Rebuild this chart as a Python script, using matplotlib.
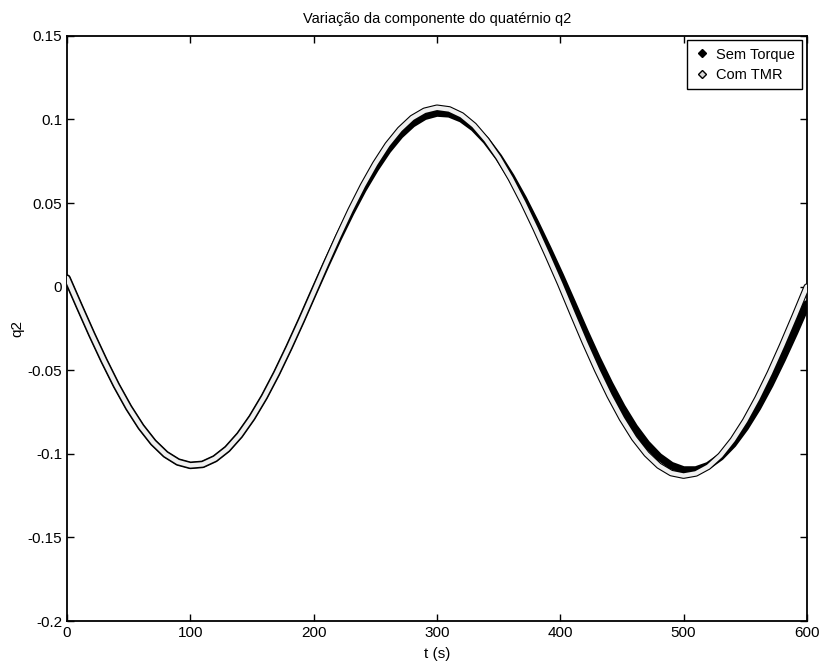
import matplotlib
matplotlib.use("Agg")
import matplotlib.pyplot as plt
import matplotlib.patheffects as pe
from matplotlib.lines import Line2D

plt.rcParams['font.family'] = ['Liberation Sans', 'DejaVu Sans']

t = list(range(0, 601, 10))

sem_torque = [0.0051, -0.0118, -0.0284, -0.0442, -0.0590, -0.0723, -0.0838, -0.0932, -0.1003, -0.1049,
              -0.1069, -0.1063, -0.1029, -0.0971, -0.0888, -0.0783, -0.0659, -0.0518, -0.0364, -0.0202,
              -0.0034, 0.0131, 0.0291, 0.0442, 0.0582, 0.0706, 0.0816, 0.0906, 0.0974, 0.1019,
              0.1039, 0.1034, 0.1004, 0.0950, 0.0873, 0.0775, 0.0658, 0.0526, 0.0380, 0.0226,
              0.0066, -0.0101, -0.0270, -0.0432, -0.0583, -0.0721, -0.0841, -0.0940, -0.1017, -0.1070,
              -0.1097, -0.1097, -0.1071, -0.1018, -0.0942, -0.0842, -0.0723, -0.0586, -0.0434, -0.0273,
              -0.0104]

com_tmr = [0.0051, -0.0118, -0.0284, -0.0442, -0.0590, -0.0723, -0.0838, -0.0932, -0.1003, -0.1049,
           -0.1069, -0.1063, -0.1029, -0.0971, -0.0888, -0.0783, -0.0659, -0.0518, -0.0364, -0.0202,
           -0.0034, 0.0135, 0.0300, 0.0458, 0.0604, 0.0735, 0.0849, 0.0940, 0.1009, 0.1052,
           0.1070, 0.1060, 0.1025, 0.0964, 0.0878, 0.0772, 0.0646, 0.0503, 0.0348, 0.0185,
           0.0017, -0.0160, -0.0334, -0.0499, -0.0652, -0.0789, -0.0907, -0.1001, -0.1071, -0.1115,
           -0.1130, -0.1117, -0.1077, -0.1010, -0.0917, -0.0802, -0.0667, -0.0516, -0.0351, -0.0178,
           0.0000]

xticks = [0, 100, 200, 300, 400, 500, 600]
yticks = [0.15, 0.1, 0.05, 0, -0.05, -0.1, -0.15, -0.2]
ytick_labels = ['0.15', '0.1', '0.05', '0', '-0.05', '-0.1', '-0.15', '-0.2']

fig = plt.figure(figsize=(8.23, 6.71), dpi=100)
ax = fig.add_axes([0.0814, 0.0745, 0.899, 0.872])

ax.plot(t, sem_torque, color='black', lw=5.5, solid_capstyle='round', zorder=2)
ax.plot(t, com_tmr, color='#f0f0f0', lw=3.2, solid_capstyle='round', zorder=3,
        path_effects=[pe.Stroke(linewidth=4.8, foreground='black'), pe.Normal()])

ax.set_xlim(0, 600)
ax.set_ylim(-0.2, 0.15)
ax.set_xticks(xticks)
ax.set_xticklabels([str(v) for v in xticks])
ax.set_yticks(yticks)
ax.set_yticklabels(ytick_labels)
ax.tick_params(direction='in', top=True, right=True, length=5, width=1, labelsize=11)
for s in ax.spines.values():
    s.set_linewidth(1.3)

ax.set_title('Variação da componente do quatérnio q2', fontsize=10.5, pad=9)
ax.set_xlabel('t (s)', fontsize=11, labelpad=5)
ax.set_ylabel('q2', fontsize=11, labelpad=2)

handles = [Line2D([], [], ls='none', marker='D', ms=4, mfc='black', mec='black'),
           Line2D([], [], ls='none', marker='D', ms=4, mfc='#d8d8d8', mec='black')]
leg = ax.legend(handles, ['Sem Torque', 'Com TMR'], loc='upper right', fontsize=10.5,
                frameon=True, fancybox=False, edgecolor='black', framealpha=1,
                handlelength=1.0, handletextpad=0.5, borderpad=0.5, labelspacing=0.45,
                borderaxespad=0.3)
leg.get_frame().set_linewidth(1.0)

fig.savefig('out.png', dpi=100)
